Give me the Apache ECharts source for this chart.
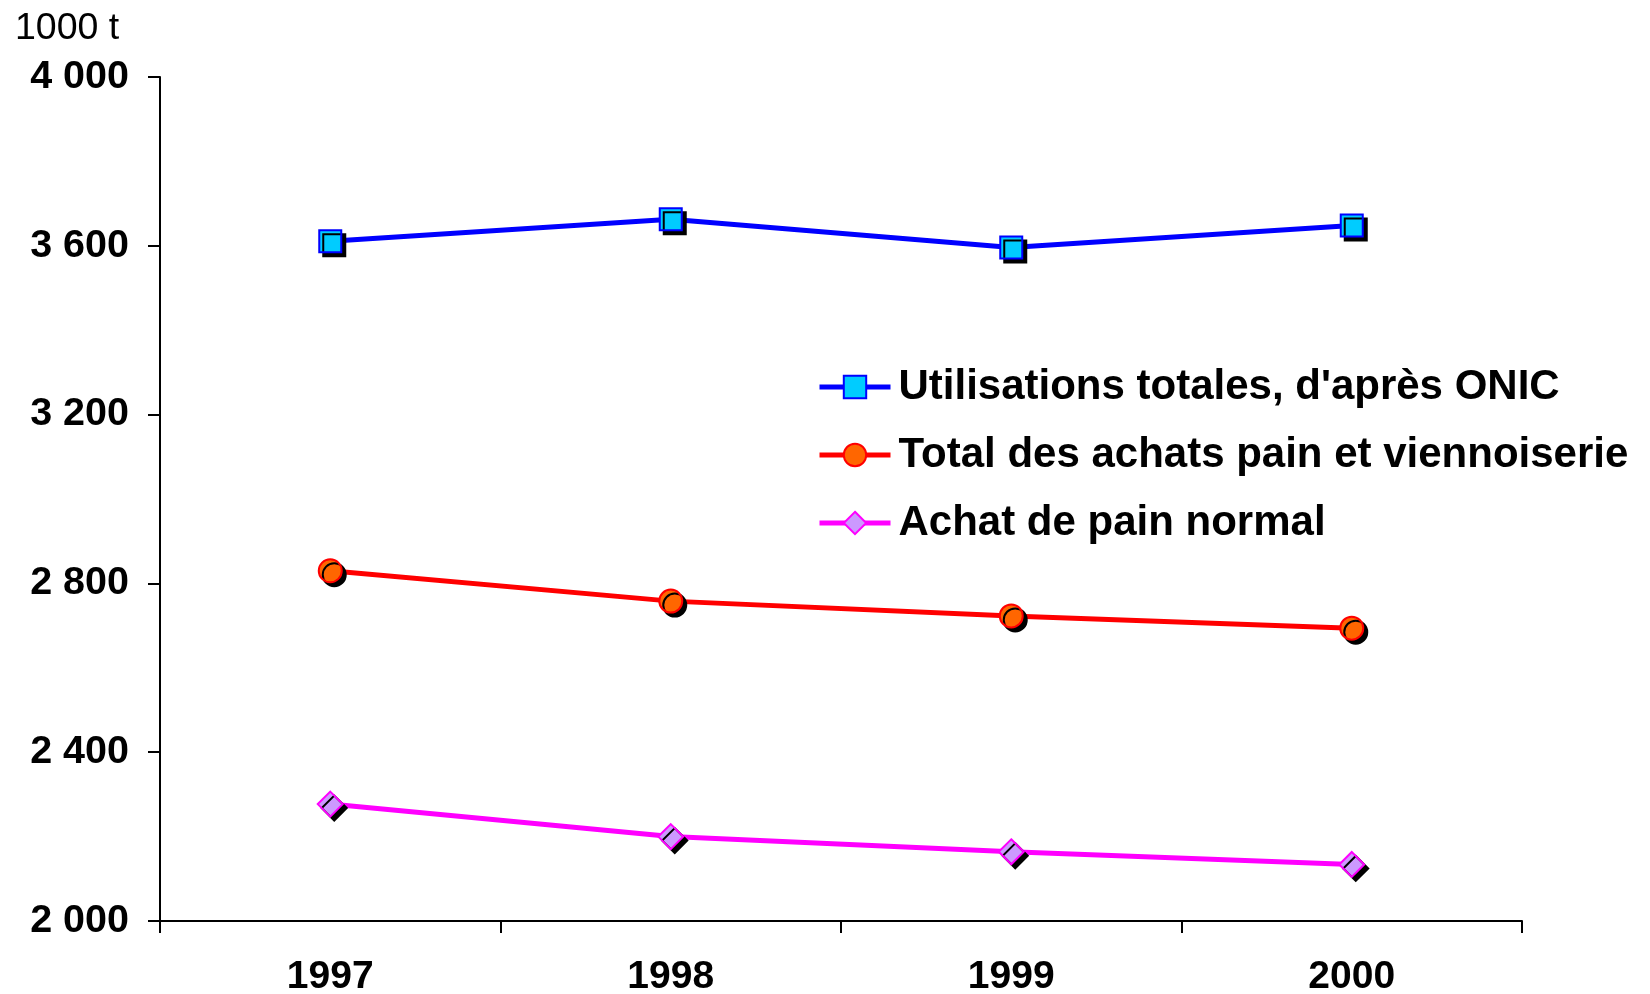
<!DOCTYPE html>
<html>
<head>
<meta charset="utf-8">
<script src="https://cdn.jsdelivr.net/npm/echarts@6/dist/echarts.min.js"></script>
<style>
html,body{margin:0;padding:0;background:#fff;}
#chart{width:1650px;height:994px;}
</style>
</head>
<body>
<div id="chart"></div>
<script>
const years = ['1997', '1998', '1999', '2000'];
const utilisationsTotales = [3611, 3663, 3596, 3648];
const totalAchats = [2830, 2758, 2723, 2694];
const achatPainNormal = [2277, 2200, 2164, 2134];
const seriesNames = ["Utilisations totales, d'après ONIC", 'Total des achats pain et viennoiserie', 'Achat de pain normal'];
const yTicks = { min: 2000, max: 4000, interval: 400 };

const font = '"Liberation Sans", Arial, sans-serif';
const chart = echarts.init(document.getElementById('chart'));

function fmt(v) {
  const s = String(v);
  return s.length > 3 ? s.slice(0, s.length - 3) + ' ' + s.slice(-3) : s;
}

const shadow = { shadowColor: '#000', shadowBlur: 0, shadowOffsetX: 4, shadowOffsetY: 4 };

chart.setOption({
  animation: false,
  backgroundColor: '#fff',
  textStyle: { fontFamily: font },
  graphic: [{
    type: 'text', left: 15, top: 10,
    style: { text: '1000 t', font: '37.5px ' + font, fill: '#000' }
  }],
  grid: { left: 160, right: 128, top: 77, bottom: 73, containLabel: false, outerBoundsMode: 'none' },
  legend: {
    orient: 'vertical', left: 812, top: 361, itemGap: 26,
    itemWidth: 71, itemHeight: 28,
    lineStyle: { width: 5 },
    itemStyle: { shadowColor: 'transparent', shadowOffsetX: 0, shadowOffsetY: 0 },
    textStyle: { fontSize: 42, fontWeight: 'bold', color: '#000', fontFamily: font, lineHeight: 42, padding: [0, 0, 0, 3] },
    data: seriesNames
  },
  xAxis: {
    type: 'category', data: years, boundaryGap: true,
    axisLine: { lineStyle: { color: '#000', width: 2 } },
    axisTick: { show: true, length: 12, lineStyle: { color: '#000', width: 2 } },
    axisLabel: { fontSize: 39, fontWeight: 'bold', color: '#000', margin: 37, fontFamily: font },
    splitLine: { show: false }
  },
  yAxis: {
    type: 'value', min: yTicks.min, max: yTicks.max, interval: yTicks.interval,
    axisLine: { show: true, lineStyle: { color: '#000', width: 2 } },
    axisTick: { show: true, length: 12, lineStyle: { color: '#000', width: 2 } },
    axisLabel: { fontSize: 39.5, fontWeight: 'bold', color: '#000', margin: 31, fontFamily: font, formatter: fmt },
    splitLine: { show: false }
  },
  series: [
    {
      name: seriesNames[0], type: 'line', data: utilisationsTotales,
      symbol: 'rect', symbolSize: 22,
      lineStyle: { color: '#0000FF', width: 5 },
      itemStyle: Object.assign({ color: '#00CCFF', borderColor: '#0000FF', borderWidth: 2 }, shadow)
    },
    {
      name: seriesNames[1], type: 'line', data: totalAchats,
      symbol: 'circle', symbolSize: 23,
      lineStyle: { color: '#FF0000', width: 5 },
      itemStyle: Object.assign({ color: '#FF6600', borderColor: '#FF0000', borderWidth: 2 }, shadow)
    },
    {
      name: seriesNames[2], type: 'line', data: achatPainNormal,
      symbol: 'diamond', symbolSize: 25,
      lineStyle: { color: '#FF00FF', width: 5 },
      itemStyle: Object.assign({ color: '#CC99FF', borderColor: '#FF00FF', borderWidth: 2 }, shadow)
    }
  ]
});
</script>
</body>
</html>
